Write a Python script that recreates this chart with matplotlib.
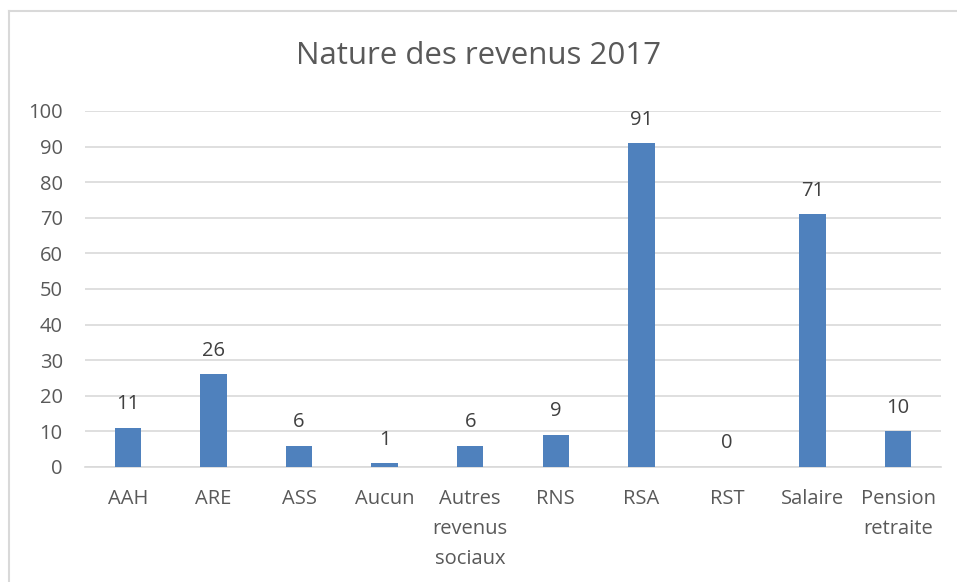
import matplotlib.pyplot as plt
from matplotlib.lines import Line2D

categories = ["AAH", "ARE", "ASS", "Aucun", "Autres\nrevenus\nsociaux",
              "RNS", "RSA", "RST", "Salaire", "Pension\nretraite"]
values = [11, 26, 6, 1, 6, 9, 91, 0, 71, 10]
yticks = [0, 10, 20, 30, 40, 50, 60, 70, 80, 90, 100]

plt.rcParams['font.family'] = ['Open Sans', 'DejaVu Sans']

fig = plt.figure(figsize=(9.57, 5.82), dpi=100)
ax = fig.add_axes([85 / 957, 1 - 467 / 582, 856 / 957, 356 / 582])

x = range(len(categories))
bars = ax.bar(x, values, width=0.31, color="#4F81BD", zorder=3)
for b, v in zip(bars, values):
    ax.text(b.get_x() + b.get_width() / 2, v + 3.8, str(v), ha="center",
            va="bottom", fontsize=14.5, color="#404040")

ax.set_xlim(-0.5, len(categories) - 0.5)
ax.set_ylim(0, 100)
ax.set_yticks(yticks)
ax.set_xticks(list(x))
ax.set_xticklabels(categories, fontsize=14.5, color="#595959", va="top",
                   linespacing=1.65)
ax.tick_params(axis="y", labelsize=14.5, labelcolor="#595959", length=0, pad=16)
ax.tick_params(axis="x", length=0, pad=16)
ax.grid(axis="y", color="#D9D9D9", linewidth=1.2, zorder=0)
for s in ["top", "right", "left"]:
    ax.spines[s].set_visible(False)
ax.spines["bottom"].set_color("#D9D9D9")
ax.spines["bottom"].set_linewidth(1.2)

fig.text(0.5, 1 - 56 / 582, "Nature des revenus 2017", ha="center",
         va="center", fontsize=22.5, color="#595959")

# outer chart border
fig.add_artist(Line2D([9 / 957, 9 / 957], [0, 1 - 11 / 582],
                      transform=fig.transFigure, color="#D9D9D9", lw=1.5))
fig.add_artist(Line2D([9 / 957, 1], [1 - 11 / 582, 1 - 11 / 582],
                      transform=fig.transFigure, color="#D9D9D9", lw=1.5))

fig.savefig("out.png", dpi=100)
